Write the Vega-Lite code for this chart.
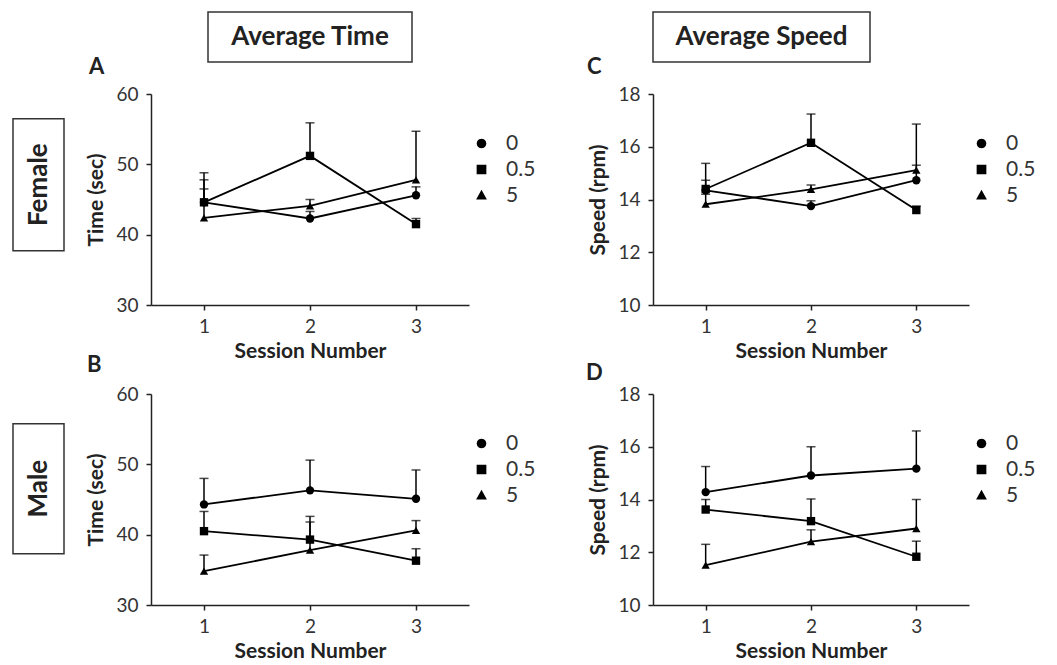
{
  "$schema": "https://vega.github.io/schema/vega-lite/v6.json",
  "padding": {"left": 12, "top": 11, "right": 5, "bottom": 0},
  "background": "white",
  "datasets": {
    "d": [
      {"panel": "A", "dose": "0", "session": 1, "mean": 44.6, "upper": 48.8},
      {"panel": "A", "dose": "0", "session": 2, "mean": 42.3, "upper": 43.3},
      {"panel": "A", "dose": "0", "session": 3, "mean": 45.6, "upper": 46.8},
      {"panel": "A", "dose": "0.5", "session": 1, "mean": 44.6, "upper": 47.8},
      {"panel": "A", "dose": "0.5", "session": 2, "mean": 51.2, "upper": 55.9},
      {"panel": "A", "dose": "0.5", "session": 3, "mean": 41.5, "upper": 42.3},
      {"panel": "A", "dose": "5", "session": 1, "mean": 42.4, "upper": 46.5},
      {"panel": "A", "dose": "5", "session": 2, "mean": 44.1, "upper": 45.0},
      {"panel": "A", "dose": "5", "session": 3, "mean": 47.8, "upper": 54.7},
      {"panel": "C", "dose": "0", "session": 1, "mean": 14.35, "upper": 15.37},
      {"panel": "C", "dose": "0", "session": 2, "mean": 13.75, "upper": 13.95},
      {"panel": "C", "dose": "0", "session": 3, "mean": 14.73, "upper": 15.3},
      {"panel": "C", "dose": "0.5", "session": 1, "mean": 14.4, "upper": 14.73},
      {"panel": "C", "dose": "0.5", "session": 2, "mean": 16.15, "upper": 17.24},
      {"panel": "C", "dose": "0.5", "session": 3, "mean": 13.6, "upper": 13.75},
      {"panel": "C", "dose": "5", "session": 1, "mean": 13.82, "upper": 14.2},
      {"panel": "C", "dose": "5", "session": 2, "mean": 14.38, "upper": 14.55},
      {"panel": "C", "dose": "5", "session": 3, "mean": 15.11, "upper": 16.86},
      {"panel": "B", "dose": "0", "session": 1, "mean": 44.3, "upper": 48.0},
      {"panel": "B", "dose": "0", "session": 2, "mean": 46.3, "upper": 50.6},
      {"panel": "B", "dose": "0", "session": 3, "mean": 45.1, "upper": 49.2},
      {"panel": "B", "dose": "0.5", "session": 1, "mean": 40.5, "upper": 43.3},
      {"panel": "B", "dose": "0.5", "session": 2, "mean": 39.3, "upper": 42.6},
      {"panel": "B", "dose": "0.5", "session": 3, "mean": 36.3, "upper": 38.0},
      {"panel": "B", "dose": "5", "session": 1, "mean": 34.8, "upper": 37.1},
      {"panel": "B", "dose": "5", "session": 2, "mean": 37.8, "upper": 41.8},
      {"panel": "B", "dose": "5", "session": 3, "mean": 40.6, "upper": 42.0},
      {"panel": "D", "dose": "0", "session": 1, "mean": 14.28, "upper": 15.25},
      {"panel": "D", "dose": "0", "session": 2, "mean": 14.91, "upper": 16.0},
      {"panel": "D", "dose": "0", "session": 3, "mean": 15.17, "upper": 16.6},
      {"panel": "D", "dose": "0.5", "session": 1, "mean": 13.62, "upper": 14.0},
      {"panel": "D", "dose": "0.5", "session": 2, "mean": 13.18, "upper": 14.02},
      {"panel": "D", "dose": "0.5", "session": 3, "mean": 11.83, "upper": 12.42},
      {"panel": "D", "dose": "5", "session": 1, "mean": 11.51, "upper": 12.3},
      {"panel": "D", "dose": "5", "session": 2, "mean": 12.4, "upper": 12.85},
      {"panel": "D", "dose": "5", "session": 3, "mean": 12.9, "upper": 14.0}
    ],
    "empty": [],
    "lab": [{"t": "Female"}, {"t": "Male"}, {"t": "Average Time"}, {"t": "Average Speed"}]
  },
  "center": true,
  "spacing": 20,
  "hconcat": [
    {
      "bounds": "flush",
      "spacing": 173,
      "vconcat": [
        {"width": 51, "height": 132, "view": {"stroke": "#333", "strokeWidth": 1.5},
         "data": {"name": "lab"}, "transform": [{"filter": "datum.t === 'Female'"}],
         "mark": {"type": "text", "angle": 270, "fontSize": 26, "fontWeight": "bold", "color": "#222", "font": "Lato"},
         "encoding": {"text": {"field": "t"}}},
        {"width": 51, "height": 130, "view": {"stroke": "#333", "strokeWidth": 1.5},
         "data": {"name": "lab"}, "transform": [{"filter": "datum.t === 'Male'"}],
         "mark": {"type": "text", "angle": 270, "fontSize": 26, "fontWeight": "bold", "color": "#222", "font": "Lato"},
         "encoding": {"text": {"field": "t"}}}
      ]
    },
    {
      "bounds": "flush",
      "align": "each",
      "center": true,
      "columns": 2,
      "spacing": {"row": 32, "column": 184},
      "resolve": {"scale": {"shape": "independent"}, "legend": {"shape": "independent"}},
      "concat": [
        {"width": 204, "height": 50, "view": {"stroke": "#333", "strokeWidth": 1.5},
         "data": {"name": "lab"}, "transform": [{"filter": "datum.t === 'Average Time'"}],
         "mark": {"type": "text", "fontSize": 26, "fontWeight": "bold", "color": "#222", "font": "Lato"},
         "encoding": {"text": {"field": "t"}}},
        {"width": 217, "height": 50, "view": {"stroke": "#333", "strokeWidth": 1.5},
         "data": {"name": "lab"}, "transform": [{"filter": "datum.t === 'Average Speed'"}],
         "mark": {"type": "text", "fontSize": 26, "fontWeight": "bold", "color": "#222", "font": "Lato"},
         "encoding": {"text": {"field": "t"}}},
        {
          "width": 318, "height": 211,
          "title": {"text": "A", "dx": -62, "offset": 6},
          "data": {"name": "d"},
          "transform": [{"filter": "datum.panel === 'A'"}],
          "resolve": {"scale": {"shape": "independent"}, "legend": {"shape": "independent"}},
          "encoding": {
            "x": {"field": "session", "type": "quantitative", "scale": {"domain": [0.5, 3.5], "nice": false, "zero": false}, "axis": {"values": [1, 2, 3], "format": "d", "title": "Session Number"}},
            "y": {"field": "mean", "type": "quantitative", "scale": {"domain": [30, 60], "nice": false, "zero": false}, "axis": {"values": [30, 40, 50, 60], "format": "d", "title": "Time (sec)"}}
          },
          "layer": [
            {"mark": {"type": "rule", "color": "black", "strokeWidth": 1.5}, "encoding": {"y2": {"field": "upper"}}},
            {"mark": {"type": "tick", "orient": "horizontal", "color": "black", "size": 9, "thickness": 1.5}, "encoding": {"y": {"field": "upper", "type": "quantitative", "axis": {"values": [30, 40, 50, 60], "format": "d", "title": "Time (sec)"}}}},
            {"mark": {"type": "line", "color": "black", "strokeWidth": 1.8}, "encoding": {"detail": {"field": "dose"}}},
            {"mark": {"type": "point", "filled": true, "color": "black", "opacity": 1, "size": 70},
             "encoding": {"shape": {"field": "dose", "type": "nominal", "scale": {"domain": ["5", "0.5", "0"], "range": ["triangle-up", "square", "circle"]}, "legend": null}}},
            {"mark": {"type": "point", "filled": true, "color": "black", "stroke": "black", "strokeWidth": 2, "opacity": 0, "size": 70},
             "encoding": {"shape": {"field": "dose", "type": "nominal",
               "scale": {"domain": ["0", "0.5", "5"], "range": ["M-1,0H1M0.36,0L0.312,0.18L0.18,0.312L0,0.36L-0.18,0.312L-0.312,0.18L-0.36,0L-0.312,-0.18L-0.18,-0.312L0,-0.36L0.18,-0.312L0.312,-0.18Z", "M-1,0H1M-0.36,-0.36H0.36V0.36H-0.36Z", "M-1,0H1M0,-0.42L0.4,0.3H-0.4Z"]},
               "legend": {"orient": "none", "legendX": 316, "legendY": 35, "symbolOpacity": 1}}}}
          ]
        },
        {
          "width": 316, "height": 211,
          "title": {"text": "C", "dx": -66, "offset": 6},
          "data": {"name": "d"},
          "transform": [{"filter": "datum.panel === 'C'"}],
          "resolve": {"scale": {"shape": "independent"}, "legend": {"shape": "independent"}},
          "encoding": {
            "x": {"field": "session", "type": "quantitative", "scale": {"domain": [0.5, 3.5], "nice": false, "zero": false}, "axis": {"values": [1, 2, 3], "format": "d", "title": "Session Number"}},
            "y": {"field": "mean", "type": "quantitative", "scale": {"domain": [10, 18], "nice": false, "zero": false}, "axis": {"values": [10, 12, 14, 16, 18], "format": "d", "title": "Speed (rpm)"}}
          },
          "layer": [
            {"mark": {"type": "rule", "color": "black", "strokeWidth": 1.5}, "encoding": {"y2": {"field": "upper"}}},
            {"mark": {"type": "tick", "orient": "horizontal", "color": "black", "size": 9, "thickness": 1.5}, "encoding": {"y": {"field": "upper", "type": "quantitative", "axis": {"values": [10, 12, 14, 16, 18], "format": "d", "title": "Speed (rpm)"}}}},
            {"mark": {"type": "line", "color": "black", "strokeWidth": 1.8}, "encoding": {"detail": {"field": "dose"}}},
            {"mark": {"type": "point", "filled": true, "color": "black", "opacity": 1, "size": 70},
             "encoding": {"shape": {"field": "dose", "type": "nominal", "scale": {"domain": ["5", "0.5", "0"], "range": ["triangle-up", "square", "circle"]}, "legend": null}}},
            {"mark": {"type": "point", "filled": true, "color": "black", "stroke": "black", "strokeWidth": 2, "opacity": 0, "size": 70},
             "encoding": {"shape": {"field": "dose", "type": "nominal",
               "scale": {"domain": ["0", "0.5", "5"], "range": ["M-1,0H1M0.36,0L0.312,0.18L0.18,0.312L0,0.36L-0.18,0.312L-0.312,0.18L-0.36,0L-0.312,-0.18L-0.18,-0.312L0,-0.36L0.18,-0.312L0.312,-0.18Z", "M-1,0H1M-0.36,-0.36H0.36V0.36H-0.36Z", "M-1,0H1M0,-0.42L0.4,0.3H-0.4Z"]},
               "legend": {"orient": "none", "legendX": 314, "legendY": 35, "symbolOpacity": 1}}}}
          ]
        },
        {"width": 1, "height": 25, "data": {"name": "empty"}, "mark": "point"},
        {"width": 1, "height": 25, "data": {"name": "empty"}, "mark": "point"},
        {
          "width": 318, "height": 211,
          "title": {"text": "B", "dx": -64, "offset": 8},
          "data": {"name": "d"},
          "transform": [{"filter": "datum.panel === 'B'"}],
          "resolve": {"scale": {"shape": "independent"}, "legend": {"shape": "independent"}},
          "encoding": {
            "x": {"field": "session", "type": "quantitative", "scale": {"domain": [0.5, 3.5], "nice": false, "zero": false}, "axis": {"values": [1, 2, 3], "format": "d", "title": "Session Number"}},
            "y": {"field": "mean", "type": "quantitative", "scale": {"domain": [30, 60], "nice": false, "zero": false}, "axis": {"values": [30, 40, 50, 60], "format": "d", "title": "Time (sec)"}}
          },
          "layer": [
            {"mark": {"type": "rule", "color": "black", "strokeWidth": 1.5}, "encoding": {"y2": {"field": "upper"}}},
            {"mark": {"type": "tick", "orient": "horizontal", "color": "black", "size": 9, "thickness": 1.5}, "encoding": {"y": {"field": "upper", "type": "quantitative", "axis": {"values": [30, 40, 50, 60], "format": "d", "title": "Time (sec)"}}}},
            {"mark": {"type": "line", "color": "black", "strokeWidth": 1.8}, "encoding": {"detail": {"field": "dose"}}},
            {"mark": {"type": "point", "filled": true, "color": "black", "opacity": 1, "size": 70},
             "encoding": {"shape": {"field": "dose", "type": "nominal", "scale": {"domain": ["5", "0.5", "0"], "range": ["triangle-up", "square", "circle"]}, "legend": null}}},
            {"mark": {"type": "point", "filled": true, "color": "black", "stroke": "black", "strokeWidth": 2, "opacity": 0, "size": 70},
             "encoding": {"shape": {"field": "dose", "type": "nominal",
               "scale": {"domain": ["0", "0.5", "5"], "range": ["M-1,0H1M0.36,0L0.312,0.18L0.18,0.312L0,0.36L-0.18,0.312L-0.312,0.18L-0.36,0L-0.312,-0.18L-0.18,-0.312L0,-0.36L0.18,-0.312L0.312,-0.18Z", "M-1,0H1M-0.36,-0.36H0.36V0.36H-0.36Z", "M-1,0H1M0,-0.42L0.4,0.3H-0.4Z"]},
               "legend": {"orient": "none", "legendX": 316, "legendY": 35, "symbolOpacity": 1}}}}
          ]
        },
        {
          "width": 316, "height": 211,
          "title": {"text": "D", "dx": -67, "offset": 0},
          "data": {"name": "d"},
          "transform": [{"filter": "datum.panel === 'D'"}],
          "resolve": {"scale": {"shape": "independent"}, "legend": {"shape": "independent"}},
          "encoding": {
            "x": {"field": "session", "type": "quantitative", "scale": {"domain": [0.5, 3.5], "nice": false, "zero": false}, "axis": {"values": [1, 2, 3], "format": "d", "title": "Session Number"}},
            "y": {"field": "mean", "type": "quantitative", "scale": {"domain": [10, 18], "nice": false, "zero": false}, "axis": {"values": [10, 12, 14, 16, 18], "format": "d", "title": "Speed (rpm)"}}
          },
          "layer": [
            {"mark": {"type": "rule", "color": "black", "strokeWidth": 1.5}, "encoding": {"y2": {"field": "upper"}}},
            {"mark": {"type": "tick", "orient": "horizontal", "color": "black", "size": 9, "thickness": 1.5}, "encoding": {"y": {"field": "upper", "type": "quantitative", "axis": {"values": [10, 12, 14, 16, 18], "format": "d", "title": "Speed (rpm)"}}}},
            {"mark": {"type": "line", "color": "black", "strokeWidth": 1.8}, "encoding": {"detail": {"field": "dose"}}},
            {"mark": {"type": "point", "filled": true, "color": "black", "opacity": 1, "size": 70},
             "encoding": {"shape": {"field": "dose", "type": "nominal", "scale": {"domain": ["5", "0.5", "0"], "range": ["triangle-up", "square", "circle"]}, "legend": null}}},
            {"mark": {"type": "point", "filled": true, "color": "black", "stroke": "black", "strokeWidth": 2, "opacity": 0, "size": 70},
             "encoding": {"shape": {"field": "dose", "type": "nominal",
               "scale": {"domain": ["0", "0.5", "5"], "range": ["M-1,0H1M0.36,0L0.312,0.18L0.18,0.312L0,0.36L-0.18,0.312L-0.312,0.18L-0.36,0L-0.312,-0.18L-0.18,-0.312L0,-0.36L0.18,-0.312L0.312,-0.18Z", "M-1,0H1M-0.36,-0.36H0.36V0.36H-0.36Z", "M-1,0H1M0,-0.42L0.4,0.3H-0.4Z"]},
               "legend": {"orient": "none", "legendX": 314, "legendY": 35, "symbolOpacity": 1}}}}
          ]
        }
      ]
    }
  ],
  "config": {
    "font": "Lato",
    "view": {"stroke": null},
    "title": {"anchor": "start", "frame": "group", "fontSize": 22, "fontWeight": "bold", "color": "#222"},
    "axis": {
      "grid": false,
      "domainColor": "#222", "domainWidth": 1.5,
      "tickColor": "#222", "tickWidth": 1.5, "tickSize": 5,
      "labelFontSize": 19, "labelColor": "#333", "labelFont": "Lato",
      "titleFontSize": 21, "titleFontWeight": "bold", "titleColor": "#222", "titleFont": "Lato"
    },
    "axisY": {"labelPadding": 8, "titlePadding": 9},
    "axisX": {"labelPadding": 7, "titlePadding": 4},
    "legend": {
      "title": null, "padding": 0,
      "symbolSize": 729, "symbolStrokeWidth": 2, "symbolStrokeColor": "black",
      "labelFontSize": 21, "labelColor": "#333", "labelOffset": 10, "rowPadding": 1, "labelFont": "Lato"
    }
  }
}
